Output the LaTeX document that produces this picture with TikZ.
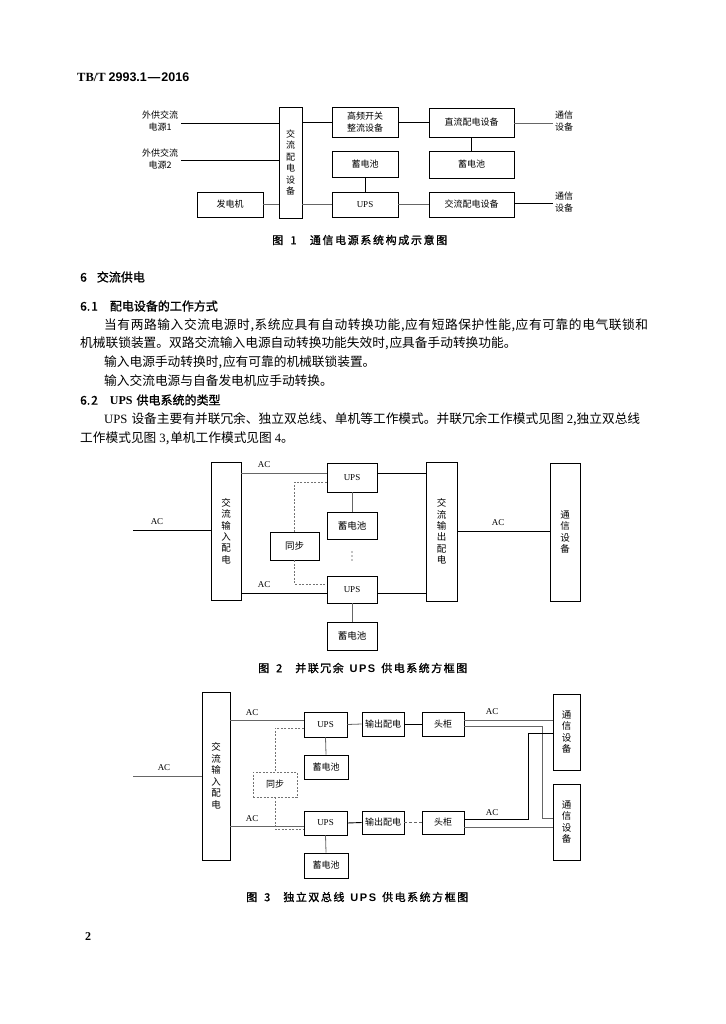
\documentclass[tikz,border=0pt]{standalone}
\usepackage{fontspec}
\setmainfont{Liberation Serif}
\newfontfamily\cjk{Noto Sans CJK SC}
\newfontfamily\cjkb{Noto Sans CJK SC}[FakeBold=1.2]
\newfontfamily\lsans{Liberation Sans}
\newcommand\mkbox[7][]{\node[bx,#1,minimum width={#5-#3},minimum height={#6-#4}] (#2) at ({(#3+#5)/2},{(#4+#6)/2}) {#7};}
\newcommand\zcm{,\kern1pt}
\makeatletter
\newcommand\spreadtxt[2]{\makebox[#1][s]{\@tfor\zz:=#2\do{{\zz}\hfil}\unskip}}
\makeatother
\begin{document}
\begin{tikzpicture}[x=1pt,y=-1pt,
  bx/.style={draw, line width=0.9pt, inner sep=0pt, align=center},
  ln/.style={line width=0.9pt},
  lg/.style={line width=0.8pt, black!60},
  sy/.style={line width=0.8pt, black!55, dash pattern=on 2pt off 1.5pt},
  fa/.style={font=\fontsize{9}{12}\selectfont\cjk},
  fb/.style={font=\fontsize{9.5}{11.5}\selectfont\cjk},
  fl/.style={font=\fontsize{9}{10}\selectfont},
  fv1/.style={font=\fontsize{9}{11.5}\selectfont\cjk},
  fv2/.style={font=\fontsize{9.5}{11.4}\selectfont\cjk},
  fv3/.style={font=\fontsize{9.5}{11.5}\selectfont\cjk},
  tx/.style={anchor=west, inner sep=0pt, font=\fontsize{12.7}{16}\selectfont\cjk},
  hd/.style={anchor=west, inner sep=0pt, font=\fontsize{12}{14}\selectfont\cjkb},
  captxt/.style={anchor=west, inner sep=0pt, font=\fontsize{11}{13}\selectfont\cjkb},
  lab/.style={inner sep=0pt, align=center}
]
\useasboundingbox[fill=white] (0,0) rectangle (725,1024);

% header
\node[anchor=west, inner sep=0pt] (hdr) at (77,77) {\fontsize{12.5}{14}\selectfont\bfseries TB/T\kern3pt\lsans 2993.1\kern1pt—\kern1pt2016};

% ================= Figure 1 =================
\mkbox[fv1]{acd}{279}{107}{302}{218}{交\\流\\配\\电\\设\\备}
\mkbox[fa]{gen}{197}{192}{263}{217}{发电机}
\mkbox[fa]{rect}{332}{107}{398}{137}{高频开关\\整流设备}
\mkbox[fa]{bat1}{332}{151}{398}{177}{蓄电池}
\mkbox[fl]{ups1}{332}{192}{398}{217}{UPS}
\mkbox[fa]{dcd}{429}{108}{514}{137}{直流配电设备}
\mkbox[fa]{bat2}{429}{151}{514}{178}{蓄电池}
\mkbox[fa]{acd2}{429}{192}{514}{217}{交流配电设备}
\node[lab,fa] (ext1) at (160,121) {外供交流\\电源1};
\node[lab,fa] (ext2) at (160,159) {外供交流\\电源2};
\node[lab,fa] (tel1a) at (564,121) {通信\\设备};
\node[lab,fa] (tel1b) at (564,202) {通信\\设备};
\coordinate (e1) at (181,123);
\coordinate (e2) at (181,160);
\coordinate (o1) at (553,123);
\coordinate (o2) at (553,203);
\draw[ln] (e1) -- (e1 -| acd.west);
\draw[ln] (e2) -- (e2 -| acd.west);
\draw[lg] (gen.east) -- (gen.east -| acd.west);
\draw[ln] (rect.west -| acd.east) -- (rect.west);
\draw[ln] (rect.east) -- (rect.east -| dcd.west);
\draw[ln] (bat1.south) -- (ups1.north);
\draw[lg] (ups1.west -| acd.east) -- (ups1.west);
\draw[lg] (ups1.east) -- (ups1.east -| acd2.west);
\draw[ln] (dcd.south) -- (bat2.north);
\draw[lg] (dcd.east |- o1) -- (o1);
\draw[ln] (acd2.east |- o2) -- (o2);
\node[captxt] (cap1) at (272,240) {\spreadtxt{175pt}{图{\kern4pt}1{\kern10pt}通信电源系统构成示意图}};

% ================= Text =================
\node[hd] (s6) at (80,277) {6\kern10pt交流供电};
\node[hd] (s61) at (80,306) {6.\kern1pt1\kern12pt配电设备的工作方式};
\node[tx] (p1) at (104,325) {\spreadtxt{544pt}{当有两路输入交流电源时,系统应具有自动转换功能,应有短路保护性能,应有可靠的电气联锁和}};
\node[tx] (p2) at (80,343) {机械联锁装置。双路交流输入电源自动转换功能失效时\zcm 应具备手动转换功能。};
\node[tx] (p3) at (104,362) {输入电源手动转换时\zcm 应有可靠的机械联锁装置。};
\node[tx] (p4) at (104,381) {输入交流电源与自备发电机应手动转换。};
\node[hd] (s62) at (80,400) {6.\kern1pt2\kern12pt{\rmfamily\bfseries UPS}\kern4pt供电系统的类型};
\node[tx] (p5) at (104,419) {\spreadtxt{536pt}{{\rmfamily UPS}{\kern4pt}设备主要有并联冗余、独立双总线、单机等工作模式。并联冗余工作模式见图{\kern3pt}{\rmfamily 2},独立双总线}};
\node[tx] (p6) at (80,438) {工作模式见图\kern3pt{\rmfamily 3}\zcm 单机工作模式见图\kern3pt{\rmfamily 4}。};

% ================= Figure 2 =================
\mkbox[fv2]{in2}{211}{462}{241}{600}{交\\流\\输\\入\\配\\电}
\mkbox[fl]{u2a}{327}{463}{377}{492}{UPS}
\mkbox[fb]{b2a}{327}{512}{377}{539}{蓄电池}
\mkbox[fb]{sy2}{270}{532}{319}{560}{同步}
\mkbox[fl]{u2b}{327}{576}{377}{603}{UPS}
\mkbox[fb]{b2b}{327}{622}{377}{650}{蓄电池}
\mkbox[fv2]{out2}{426}{462}{457}{601}{交\\流\\输\\出\\配\\电}
\mkbox[fv3]{tel2}{550}{463}{580}{601}{通\\信\\设\\备}
\foreach \yy in {552,556,560} \fill (352,\yy) circle (0.7);
\coordinate (ain2) at (133,530);
\draw[ln] (ain2) -- (ain2 -| in2.west);
\node[fl,inner sep=0pt] (ac2a) at (157,522) {AC};
\draw[lg] ([yshift=4.5pt]u2a.west -| in2.east) -- ([yshift=4.5pt]u2a.west);
\node[fl,inner sep=0pt] (ac2b) at (264,465) {AC};
\draw[ln] ([yshift=-3.5pt]u2b.west -| in2.east) -- ([yshift=-3.5pt]u2b.west);
\node[fl,inner sep=0pt] (ac2c) at (264,585) {AC};
\draw[ln] ([yshift=4.5pt]u2a.east) -- ([yshift=4.5pt]u2a.east -| out2.west);
\draw[ln] ([yshift=-3.5pt]u2b.east) -- ([yshift=-3.5pt]u2b.east -| out2.west);
\draw[lg] (u2a.south) -- (b2a.north);
\draw[lg] (u2b.south) -- (b2b.north);
\draw[sy] ([yshift=-4.5pt]u2a.west) -| (sy2.north);
\draw[sy] (sy2.south) |- ([yshift=5.5pt]u2b.west);
\draw[ln] (out2.east) -- (out2.east -| tel2.west);
\node[fl,inner sep=0pt] (ac2d) at (498,523) {AC};
\node[captxt] (cap2) at (258,668) {\spreadtxt{209pt}{图{\kern4pt}2{\kern10pt}并联冗余{\kern3pt}{\lsans\bfseries U}{\lsans\bfseries P}{\lsans\bfseries S}{\kern3pt}供电系统方框图}};

% ================= Figure 3 =================
\mkbox[fv3]{in3}{202}{692}{230}{860}{交\\流\\输\\入\\配\\电}
\mkbox[fl]{u3a}{304}{712}{347}{737}{UPS}
\mkbox[fa]{b3a}{304}{755}{348}{779}{蓄电池}
\mkbox[fa,sy]{sy3}{253}{772}{297}{797}{\color{black}同步}
\mkbox[fl]{u3b}{304}{811}{347}{835}{UPS}
\mkbox[fa]{b3b}{304}{853}{348}{878}{蓄电池}
\mkbox[fa]{o3a}{362}{712}{404}{736}{输出配电}
\mkbox[fa]{h3a}{422}{712}{464}{736}{头柜}
\mkbox[fa]{o3b}{362}{811}{404}{834}{输出配电}
\mkbox[fa]{h3b}{422}{811}{464}{834}{头柜}
\mkbox[fv3]{t3a}{553}{694}{580}{770}{通\\信\\设\\备}
\mkbox[fv3]{t3b}{553}{784}{580}{860}{通\\信\\设\\备}
\coordinate (ain3) at (133,776);
\draw[lg] (ain3) -- (ain3 -| in3.west);
\node[fl,inner sep=0pt] (ac3a) at (164,768) {AC};
\draw[lg] ([yshift=4.5pt]u3a.west -| in3.east) -- ([yshift=4.5pt]u3a.west);
\node[fl,inner sep=0pt] (ac3b) at (252,713) {AC};
\draw[lg] ([yshift=-3pt]u3b.west -| in3.east) -- ([yshift=-3pt]u3b.west);
\node[fl,inner sep=0pt] (ac3c) at (252,819) {AC};
\draw[lg] (u3a.south) -- (b3a.north);
\draw[lg] (u3b.south) -- (b3b.north);
\draw[sy] ([yshift=-3.5pt]u3a.west) -| (sy3.north);
\draw[sy] (sy3.south) |- ([yshift=-6pt]u3b.west);
\draw[lg] (u3a.east) -- (o3a.west);
\draw[ln] (o3a.east) -- (h3a.west);
\draw[ln] (u3b.east) -- (o3b.west);
\draw[lg, dash pattern=on 3pt off 2pt] (o3b.east) -- (h3b.west);
\coordinate (vb) at (542,726);
\coordinate (vc) at (528,819);
\draw[lg] ([yshift=4pt]h3a.east) -- ([yshift=4pt]h3a.east -| t3a.west);
\draw[lg] ([yshift=-2pt]h3a.east) -- (vb) |- ([yshift=4pt]t3b.west);
\draw[ln] ([yshift=3.5pt]h3b.east) -- (vc) |- ([yshift=-1pt]t3a.west);
\draw[lg] ([yshift=-4.5pt]h3b.east) -- ([yshift=-4.5pt]h3b.east -| t3b.west);
\node[fl,inner sep=0pt] (ac3d) at (492,712) {AC};
\node[fl,inner sep=0pt] (ac3e) at (492,813) {AC};
\node[captxt] (cap3) at (246,897) {\spreadtxt{222pt}{图{\kern4pt}3{\kern10pt}独立双总线{\kern3pt}{\lsans\bfseries U}{\lsans\bfseries P}{\lsans\bfseries S}{\kern3pt}供电系统方框图}};

% page number
\node[inner sep=0pt, font=\fontsize{12}{12}\selectfont\bfseries] (pg) at (88,937) {2};
\end{tikzpicture}
\end{document}
